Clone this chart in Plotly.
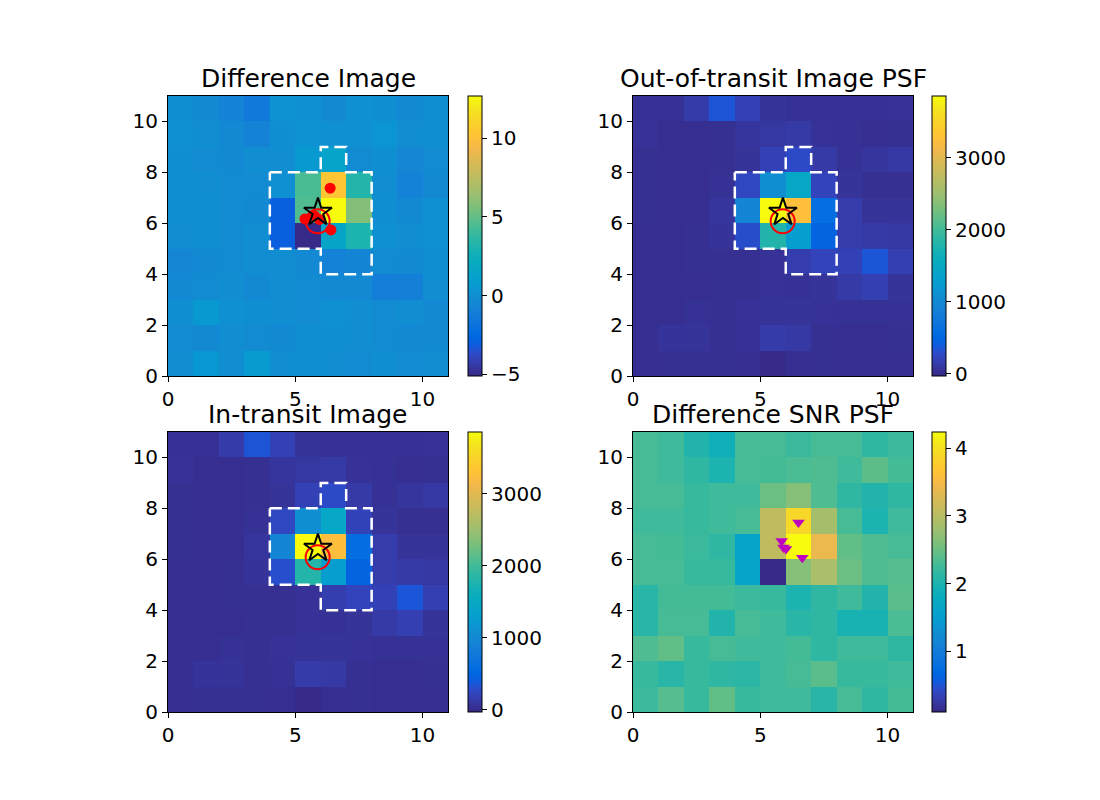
import plotly.graph_objects as go

# pixel grids, rows listed top (y=10..11) to bottom (y=0..1)
diff_img = [
    [0.0, -0.3, -0.8, -1.4, 0.2, 0.1, -0.3, 0.1, 0.0, -0.3, 0.0],
    [0.1, -0.1, -0.3, -0.7, 0.0, 0.2, 0.1, 0.1, 0.4, -0.1, 0.0],
    [0.0, -0.2, -0.3, -0.1, -0.1, 0.6, 1.4, -0.2, 0.0, -0.5, -0.2],
    [0.0, -0.1, -0.2, -0.2, 0.1, 4.4, 10.3, 3.3, -0.1, -0.8, -0.3],
    [0.0, 0.0, -0.2, -0.4, -3.0, 4.6, 12.68, 5.8, 0.0, -0.3, 0.1],
    [-0.1, 0.0, -0.2, -0.1, -3.0, -5.1, 1.5, 3.1, 0.1, -0.1, 0.1],
    [-0.5, -0.3, -0.2, -0.1, -0.1, -0.3, -0.8, -0.6, -0.2, -0.3, 0.0],
    [-0.3, -0.2, -0.1, -0.4, -0.1, -0.2, -0.3, -0.3, -1.1, -1.0, -0.1],
    [0.0, 0.6, 0.1, 0.0, -0.1, -0.2, 0.1, -0.1, -0.2, -0.1, -0.3],
    [-0.2, -0.4, -0.1, -0.2, -0.3, 0.0, 0.0, -0.1, -0.2, -0.4, -0.3],
    [-0.1, 0.5, -0.1, 0.8, -0.1, 0.0, -0.1, -0.2, 0.0, -0.2, -0.1],
]

oot_img = [
    [40, 40, 130, 350, 200, 60, 40, 40, 40, 40, 50],
    [50, 20, 20, 30, 80, 100, 120, 50, 40, 20, 30],
    [30, 20, 20, 30, 60, 200, 280, 120, 40, 80, 110],
    [30, 20, 20, 40, 250, 1080, 1450, 220, 60, 30, 30],
    [30, 20, 20, 80, 950, 3860, 3250, 600, 150, 60, 60],
    [20, 20, 30, 70, 300, 1800, 1300, 470, 150, 120, 100],
    [20, 20, 30, 30, 30, 50, 160, 220, 200, 360, 180],
    [20, 20, 20, 30, 30, 50, 40, 60, 120, 180, 60],
    [20, 20, 40, 30, 50, 60, 60, 50, 40, 40, 40],
    [20, 70, 60, 30, 40, 130, 110, 30, 20, 20, 30],
    [20, 30, 30, 30, 20, -30, 20, 30, 20, 20, 20],
]

in_img = [
    [40, 40, 130, 350, 200, 60, 40, 40, 40, 40, 50],
    [50, 20, 20, 30, 80, 100, 120, 50, 40, 20, 30],
    [30, 20, 20, 30, 60, 200, 278, 120, 40, 80, 110],
    [30, 20, 20, 40, 250, 1076, 1440, 217, 60, 31, 30],
    [30, 20, 20, 80, 953, 3855, 3237, 594, 150, 60, 60],
    [20, 20, 30, 70, 303, 1805, 1298, 467, 150, 120, 100],
    [20, 20, 30, 30, 30, 50, 161, 221, 200, 360, 180],
    [20, 20, 20, 30, 30, 50, 40, 60, 121, 181, 60],
    [20, 19, 40, 30, 50, 60, 60, 50, 40, 40, 40],
    [20, 70, 60, 30, 40, 130, 110, 30, 20, 20, 30],
    [20, 29, 30, 29, 20, -30, 20, 30, 20, 20, 20],
]

snr_img = [
    [2.30, 2.25, 2.05, 1.90, 2.30, 2.30, 2.22, 2.30, 2.30, 2.15, 2.22],
    [2.30, 2.25, 2.15, 2.00, 2.30, 2.28, 2.32, 2.35, 2.25, 2.42, 2.28],
    [2.30, 2.30, 2.20, 2.25, 2.25, 2.50, 2.65, 2.35, 2.15, 2.05, 2.15],
    [2.25, 2.25, 2.20, 2.25, 2.30, 3.05, 3.90, 2.85, 2.30, 2.00, 2.25],
    [2.30, 2.28, 2.22, 2.15, 1.60, 3.05, 4.236, 3.40, 2.45, 2.35, 2.30],
    [2.30, 2.30, 2.20, 2.20, 1.60, 0.106, 2.65, 2.90, 2.50, 2.35, 2.38],
    [2.10, 2.28, 2.28, 2.28, 2.22, 2.20, 2.00, 2.15, 2.25, 2.05, 2.40],
    [2.10, 2.30, 2.30, 2.05, 2.30, 2.25, 2.10, 2.15, 1.97, 1.97, 2.32],
    [2.35, 2.45, 2.20, 2.30, 2.25, 2.25, 2.28, 2.15, 2.25, 2.25, 2.15],
    [2.20, 2.10, 2.20, 2.15, 2.12, 2.25, 2.30, 2.40, 2.20, 2.20, 2.25],
    [2.22, 2.38, 2.20, 2.45, 2.20, 2.25, 2.25, 2.10, 2.30, 2.15, 2.28],
]

pix_centers = [0.5, 1.5, 2.5, 3.5, 4.5, 5.5, 6.5, 7.5, 8.5, 9.5, 10.5]
x_ticks = [0, 5, 10]
y_ticks = [0, 2, 4, 6, 8, 10]

# aperture outline (pixel edges)
ap_x = [4, 6, 6, 7, 7, 8, 8, 6, 6, 4, 4]
ap_y = [8, 8, 9, 9, 8, 8, 4, 4, 5, 5, 8]

# catalog star, fitted centroid, per-quarter centroids
star_x, star_y = [5.89], [6.43]
cent_x, cent_y = [5.88], [6.08]
qdiff_x = [6.37, 5.38, 6.40, 5.75, 5.95]
qdiff_y = [7.38, 6.17, 5.74, 6.30, 6.15]
qsnr_x = [6.50, 5.84, 5.91, 6.01, 6.65]
qsnr_y = [7.44, 6.72, 6.46, 6.40, 6.06]

parula = [
    (0.2081, 0.1663, 0.5292), (0.2116, 0.1898, 0.5777), (0.2123, 0.2138, 0.6270),
    (0.2081, 0.2386, 0.6771), (0.1959, 0.2645, 0.7279), (0.1707, 0.2919, 0.7792),
    (0.1253, 0.3242, 0.8303), (0.0591, 0.3598, 0.8683), (0.0117, 0.3875, 0.8820),
    (0.0060, 0.4086, 0.8828), (0.0165, 0.4266, 0.8786), (0.0329, 0.4430, 0.8720),
    (0.0498, 0.4586, 0.8641), (0.0629, 0.4737, 0.8554), (0.0723, 0.4887, 0.8467),
    (0.0779, 0.5040, 0.8384), (0.0793, 0.5200, 0.8312), (0.0749, 0.5375, 0.8263),
    (0.0641, 0.5570, 0.8240), (0.0488, 0.5772, 0.8228), (0.0343, 0.5966, 0.8199),
    (0.0265, 0.6137, 0.8135), (0.0239, 0.6287, 0.8038), (0.0231, 0.6418, 0.7913),
    (0.0228, 0.6535, 0.7768), (0.0267, 0.6642, 0.7607), (0.0384, 0.6743, 0.7436),
    (0.0590, 0.6838, 0.7254), (0.0843, 0.6928, 0.7062), (0.1133, 0.7015, 0.6859),
    (0.1453, 0.7098, 0.6646), (0.1801, 0.7177, 0.6424), (0.2178, 0.7250, 0.6193),
    (0.2586, 0.7317, 0.5954), (0.3022, 0.7376, 0.5712), (0.3482, 0.7424, 0.5473),
    (0.3953, 0.7459, 0.5244), (0.4420, 0.7481, 0.5033), (0.4871, 0.7491, 0.4840),
    (0.5300, 0.7491, 0.4661), (0.5709, 0.7485, 0.4494), (0.6099, 0.7473, 0.4337),
    (0.6473, 0.7456, 0.4188), (0.6834, 0.7435, 0.4044), (0.7184, 0.7411, 0.3905),
    (0.7525, 0.7384, 0.3768), (0.7858, 0.7356, 0.3633), (0.8185, 0.7327, 0.3498),
    (0.8507, 0.7299, 0.3360), (0.8824, 0.7274, 0.3217), (0.9139, 0.7258, 0.3063),
    (0.9450, 0.7261, 0.2886), (0.9739, 0.7314, 0.2666), (0.9938, 0.7455, 0.2403),
    (0.9990, 0.7653, 0.2164), (0.9955, 0.7861, 0.1967), (0.9880, 0.8066, 0.1794),
    (0.9789, 0.8271, 0.1633), (0.9697, 0.8481, 0.1475), (0.9626, 0.8705, 0.1309),
    (0.9589, 0.8949, 0.1132), (0.9598, 0.9218, 0.0948), (0.9661, 0.9514, 0.0755),
    (0.9763, 0.9831, 0.0538),
]
cscale = [[i / (len(parula) - 1), "rgb(%d,%d,%d)" % tuple(round(c * 255) for c in p)]
          for i, p in enumerate(parula)]

W, H = 1100, 800
OFF = 8  # page body margin
FONT = "DejaVu Sans"
TICK = 20

# panel boxes in pixels: (left, top), each 280x280
panels = [
    ("Difference Image", diff_img, 168, 96, 468, [-5, 0, 5, 10], -5.1, 12.68),
    ("Out-of-transit Image PSF", oot_img, 633, 96, 932, [0, 1000, 2000, 3000], -30, 3860),
    ("In-transit Image", in_img, 168, 432, 468, [0, 1000, 2000, 3000], -30, 3855),
    ("Difference SNR PSF", snr_img, 633, 432, 932, [1, 2, 3, 4], 0.106, 4.236),
]

fig = go.Figure()
layout = dict(width=W, height=H, margin=dict(l=0, r=0, t=0, b=0, autoexpand=False),
              paper_bgcolor="white", plot_bgcolor="white", showlegend=False,
              font=dict(family=FONT, size=TICK, color="black"), annotations=[])

for i, (title, img, left, top, cbx, cbticks, zmin, zmax) in enumerate(panels):
    n = "" if i == 0 else str(i + 1)
    xa, ya = "x" + n, "y" + n
    left, top, cbx = left - OFF, top - OFF, cbx - OFF
    dom_x = [left / W, (left + 280) / W]
    dom_y = [1 - (top + 280) / H, 1 - top / H]
    fig.add_trace(go.Heatmap(
        z=img[::-1], x=pix_centers, y=pix_centers, xaxis=xa, yaxis=ya,
        colorscale=cscale, zmin=zmin, zmax=zmax,
        colorbar=dict(x=cbx / W, xanchor="left", xpad=0, ypad=0,
                      y=(dom_y[0] + dom_y[1]) / 2, yanchor="middle",
                      len=280 / H, lenmode="fraction",
                      thickness=14, thicknessmode="pixels",
                      outlinewidth=1, outlinecolor="black",
                      tickvals=cbticks, ticks="outside", ticklen=5,
                      tickcolor="black", tickfont=dict(size=TICK, family=FONT)),
    ))
    if i < 3:
        fig.add_trace(go.Scatter(x=ap_x, y=ap_y, xaxis=xa, yaxis=ya, mode="lines",
                                 line=dict(color="white", width=2.5, dash="12px,6px"),
                                 hoverinfo="skip"))
    if i == 0:
        fig.add_trace(go.Scatter(x=qdiff_x, y=qdiff_y, xaxis=xa, yaxis=ya, mode="markers",
                                 marker=dict(color="red", size=11)))
    if i < 3:
        fig.add_trace(go.Scatter(x=cent_x, y=cent_y, xaxis=xa, yaxis=ya, mode="markers",
                                 marker=dict(symbol="circle-open", color="red", size=24,
                                             line=dict(color="red", width=2))))
        fig.add_trace(go.Scatter(x=star_x, y=star_y, xaxis=xa, yaxis=ya, mode="markers",
                                 marker=dict(symbol="star-open", color="black", size=21,
                                             line=dict(color="black", width=2))))
    if i == 3:
        fig.add_trace(go.Scatter(x=qsnr_x, y=qsnr_y, xaxis=xa, yaxis=ya, mode="markers",
                                 marker=dict(symbol="triangle-down", color="#bf00bf", size=11)))

    axis_common = dict(range=[0, 11], showgrid=False, zeroline=False,
                       showline=True, mirror=True, linecolor="black", linewidth=1,
                       ticks="outside", ticklen=5, tickcolor="black",
                       tickfont=dict(size=TICK, family=FONT))
    layout["xaxis" + n] = dict(axis_common, tickvals=x_ticks, domain=dom_x, anchor=ya)
    layout["yaxis" + n] = dict(axis_common, tickvals=y_ticks, domain=dom_y, anchor=xa)
    layout["annotations"].append(dict(
        text=title, xref="paper", yref="paper", x=(dom_x[0] + dom_x[1]) / 2, y=dom_y[1],
        xanchor="center", yanchor="bottom", yshift=1, showarrow=False,
        font=dict(size=25, family=FONT, color="black")))

fig.update_layout(**layout)
fig.write_html("out.html")
